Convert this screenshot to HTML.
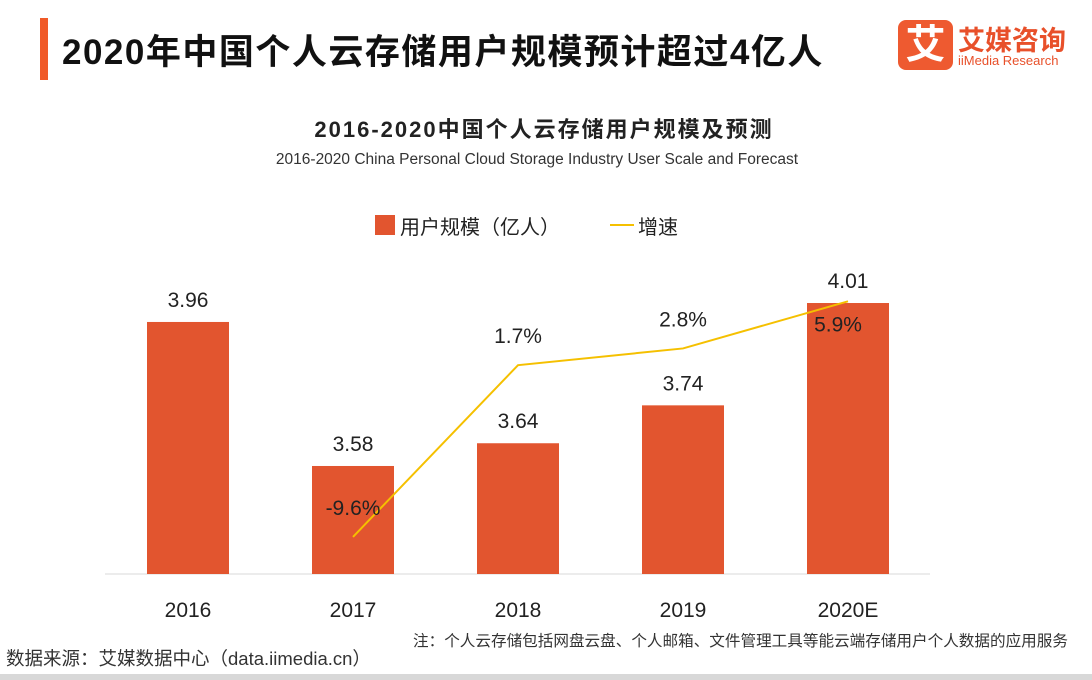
<!DOCTYPE html>
<html><head><meta charset="utf-8"><style>
body{margin:0;width:1092px;height:680px;background:#fff;overflow:hidden;font-family:"Liberation Sans","Noto Sans CJK SC",sans-serif;position:relative}
.a{position:absolute;white-space:nowrap}
</style></head><body>
<div class="a" style="left:40px;top:18px;width:8px;height:62px;background:#f05a28"></div>
<div class="a" style="left:62px;top:24px;font-size:35px;letter-spacing:1.5px;font-weight:bold;color:#111">2020年中国个人云存储用户规模预计超过4亿人</div>
<div class="a" style="left:898px;top:20px;width:55px;height:50px;background:#ee5a30;border-radius:8px;color:#fff;font-size:40px;font-weight:bold;text-align:center;line-height:50px">艾</div>
<div class="a" style="left:958px;top:19px;font-size:27px;color:#e8502a;font-weight:bold">艾媒咨询</div>
<div class="a" style="left:958px;top:53px;font-size:13px;color:#e8502a">iiMedia Research</div>
<div class="a" style="left:0;width:1088px;text-align:center;top:112px;font-size:22px;letter-spacing:2px;font-weight:bold;color:#222">2016-2020中国个人云存储用户规模及预测</div>
<div class="a" style="left:0;width:1074px;text-align:center;top:151px;font-size:15.5px;color:#333">2016-2020 China Personal Cloud Storage Industry User Scale and Forecast</div>
<div class="a" style="left:375px;top:215px;width:20px;height:20px;background:#e2552f"></div>
<div class="a" style="left:400px;top:211px;font-size:20px;color:#222">用户规模（亿人）</div>
<div class="a" style="left:610px;top:224px;width:24px;height:2px;background:#f5c000"></div>
<div class="a" style="left:638px;top:211px;font-size:20px;color:#222">增速</div>
<svg class="a" style="left:0;top:0" width="1092" height="680" id="svg"></svg>
<div class="a" style="left:6px;top:645px;font-size:18.5px;color:#333">数据来源：艾媒数据中心（data.iimedia.cn）</div>
<div class="a" style="left:413px;top:629px;font-size:15.6px;color:#333">注：个人云存储包括网盘云盘、个人邮箱、文件管理工具等能云端存储用户个人数据的应用服务</div>
<div class="a" style="left:0;top:674px;width:1092px;height:6px;background:#d8d8d8"></div>
<script>
const categories=["2016","2017","2018","2019","2020E"];
const users=[3.96,3.58,3.64,3.74,4.01];
const growth=[null,-9.6,1.7,2.8,5.9];
const growthLabels=["","-9.6%","1.7%","2.8%","5.9%"];
const NS="http://www.w3.org/2000/svg";
const svg=document.getElementById('svg');
const base=574;
const x=i=>188+i*165;
const yB=v=>base-(v-3.295)*379;
const yL=v=>391-v*15.2;
function mk(t,a){const e=document.createElementNS(NS,t);for(const k in a)e.setAttribute(k,a[k]);svg.appendChild(e);return e;}
const ax=mk('line',{x1:105,x2:930,y1:base,y2:base,stroke:'#d9d9d9','stroke-width':1});


users.forEach((v,i)=>{
const r=mk('rect',{x:x(i)-41,y:yB(v),width:82,height:base-yB(v),fill:'#e2552f'});


const t=mk('text',{x:x(i),y:yB(v)-15,'text-anchor':'middle','font-size':21,fill:'#222'});t.textContent=v.toFixed(2);


const c=mk('text',{x:x(i),y:617,'text-anchor':'middle','font-size':21,fill:'#222'});c.textContent=categories[i];


});
let pts=[];growth.forEach((g,i)=>{if(g!==null)pts.push(x(i)+','+yL(g));});
const pl=mk('polyline',{points:pts.join(' '),fill:'none',stroke:'#f5c000','stroke-width':2});


growth.forEach((g,i)=>{if(g===null)return;
const last=i===growth.length-1;
const t=mk('text',{x:x(i)-(last?10:0),y:last?yL(g)+30:yL(g)-22,'text-anchor':'middle','font-size':21,fill:'#222'});
t.textContent=growthLabels[i];


});
</script>
</body></html>
